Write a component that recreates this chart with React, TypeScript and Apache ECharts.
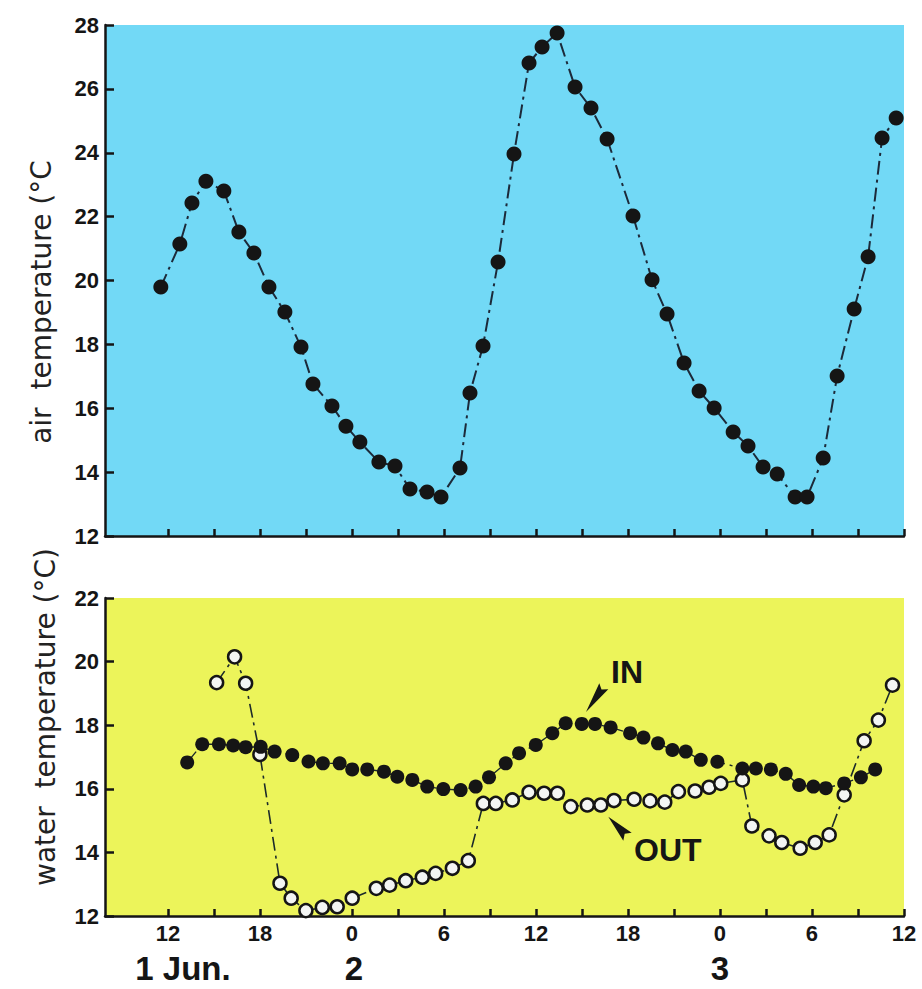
import React, { useEffect, useRef } from "react";
import * as echarts from "echarts";

// hours counted from 1 Jun. 00:00
const airHours = [11.54, 12.78, 13.57, 14.48, 15.65, 16.63, 17.61, 18.59, 19.63, 20.68, 21.46, 22.7, 23.61, 24.52, 25.76, 26.81, 27.79, 28.9, 29.81, 31.05, 31.7, 32.55, 33.53, 34.57, 35.55, 36.4, 37.38, 38.55, 39.59, 40.64, 42.33, 43.57, 44.55, 45.66, 46.64, 47.62, 48.86, 49.83, 50.81, 51.73, 52.9, 53.68, 54.73, 55.64, 56.75, 57.66, 58.57, 59.49];
const airTemp = [19.8, 21.14, 22.43, 23.11, 22.8, 21.52, 20.86, 19.8, 19.01, 17.92, 16.76, 16.07, 15.44, 14.94, 14.32, 14.19, 13.47, 13.38, 13.22, 14.13, 16.48, 17.95, 20.58, 23.96, 26.81, 27.31, 27.75, 26.06, 25.4, 24.43, 22.02, 20.02, 18.95, 17.42, 16.54, 16.01, 15.26, 14.82, 14.16, 13.94, 13.22, 13.22, 14.44, 17.01, 19.11, 20.74, 24.46, 25.09];

const inHours = [13.26, 14.24, 15.33, 16.26, 17.07, 18.05, 18.96, 20.11, 21.17, 22.11, 23.2, 24.02, 25.0, 26.09, 26.96, 27.94, 28.91, 29.96, 31.09, 32.07, 32.94, 34.03, 34.9, 35.99, 37.07, 37.94, 38.99, 39.85, 40.87, 42.14, 43.01, 43.96, 44.9, 45.77, 46.75, 47.83, 49.46, 50.34, 51.32, 52.29, 53.16, 54.09, 54.9, 56.1, 57.19, 58.12];
const inTemp = [16.83, 17.4, 17.4, 17.36, 17.31, 17.32, 17.17, 17.06, 16.86, 16.8, 16.8, 16.61, 16.61, 16.54, 16.38, 16.28, 16.07, 15.99, 15.96, 16.07, 16.36, 16.8, 17.12, 17.38, 17.75, 18.06, 18.04, 18.04, 17.93, 17.75, 17.61, 17.43, 17.22, 17.17, 16.91, 16.85, 16.64, 16.64, 16.61, 16.47, 16.12, 16.07, 16.02, 16.17, 16.36, 16.61];

const outHours = [15.18, 16.35, 17.07, 18.0, 19.31, 20.04, 21.0, 22.07, 23.04, 24.02, 25.59, 26.46, 27.51, 28.59, 29.46, 30.55, 31.59, 32.57, 33.38, 34.46, 35.55, 36.53, 37.4, 38.27, 39.35, 40.23, 41.09, 42.4, 43.44, 44.4, 45.29, 46.38, 47.29, 48.05, 49.46, 50.08, 51.2, 52.03, 53.23, 54.21, 55.12, 56.1, 57.4, 58.33, 59.25];
const outTemp = [19.34, 20.15, 19.32, 17.08, 13.03, 12.56, 12.17, 12.27, 12.29, 12.56, 12.87, 12.97, 13.11, 13.22, 13.34, 13.5, 13.74, 15.54, 15.54, 15.65, 15.89, 15.86, 15.86, 15.44, 15.49, 15.49, 15.63, 15.67, 15.62, 15.58, 15.91, 15.93, 16.05, 16.17, 16.28, 14.83, 14.52, 14.31, 14.13, 14.31, 14.55, 15.81, 17.51, 18.16, 19.26];

const tickHours = [12, 15, 18, 21, 24, 27, 30, 33, 36, 39, 42, 45, 48, 51, 54, 57, 60];
const labelHours = [12, 18, 24, 30, 36, 42, 48, 54, 60];
const dayLabels = ["1 Jun.", "2", "3"];
const dayLabelX = [183, 354, 720];

const INK = "#151515";
const FONT = "'Liberation Sans', Arial, sans-serif";

const zip = (xs: number[], ys: number[]) => xs.map((x, i) => [x, ys[i]]);

export default function App() {
  const ref = useRef<HTMLDivElement>(null);
  useEffect(() => {
    if (!ref.current) return;
    const chart = echarts.init(ref.current, null, { renderer: "svg" });
    const xAxisBase = (gridIndex: number, showLabels: boolean) => ({
      gridIndex,
      type: "value",
      min: 7.9,
      max: 60,
      axisLine: { onZero: false, lineStyle: { color: INK, width: 2.5 } },
      axisTick: { inside: true, length: 7, customValues: tickHours, lineStyle: { color: INK, width: 2.5 } },
      axisLabel: showLabels
        ? {
            customValues: labelHours,
            formatter: (v: number) => String(Math.round(v) % 24),
            color: INK,
            fontFamily: FONT,
            fontWeight: "bold",
            fontSize: 22,
            margin: 6,
          }
        : { show: false },
      splitLine: { show: false },
    });
    const yAxisBase = (gridIndex: number, max: number) => ({
      gridIndex,
      type: "value",
      min: 12,
      max,
      interval: 2,
      axisLine: { show: true, lineStyle: { color: INK, width: 2.5 } },
      axisTick: { show: true, inside: true, length: 9, lineStyle: { color: INK, width: 2.5 } },
      axisLabel: { color: INK, fontFamily: FONT, fontWeight: "bold", fontSize: 22, margin: 6 },
      splitLine: { show: false },
    });
    const dashDot = [14, 5, 3, 5];
    const option: any = {
      animation: false,
      backgroundColor: "#ffffff",
      grid: [
        { left: 105, top: 25, width: 799, height: 511, show: true, backgroundColor: "#72d9f6", borderWidth: 0 },
        { left: 105, top: 598, width: 799, height: 318, show: true, backgroundColor: "#ecf45a", borderWidth: 0 },
      ],
      xAxis: [xAxisBase(0, false), xAxisBase(1, true)],
      yAxis: [yAxisBase(0, 28), yAxisBase(1, 22)],
      series: [
        {
          name: "air",
          type: "line",
          xAxisIndex: 0,
          yAxisIndex: 0,
          data: zip(airHours, airTemp),
          symbol: "circle",
          symbolSize: 15,
          itemStyle: { color: INK },
          lineStyle: { color: "#1c2a3a", width: 2, type: dashDot },
        },
        {
          name: "OUT",
          type: "line",
          xAxisIndex: 1,
          yAxisIndex: 1,
          data: zip(outHours, outTemp),
          symbol: "circle",
          symbolSize: 13,
          itemStyle: { color: "#f3f5f3", borderColor: INK, borderWidth: 2.5 },
          lineStyle: { color: "#1c2a2a", width: 1.6, type: dashDot },
        },
        {
          name: "IN",
          type: "line",
          xAxisIndex: 1,
          yAxisIndex: 1,
          data: zip(inHours, inTemp),
          symbol: "circle",
          symbolSize: 14,
          itemStyle: { color: INK },
          lineStyle: { color: "#1c2a2a", width: 1.4, type: dashDot },
        },
      ],
      graphic: [
        {
          type: "text",
          x: 41,
          y: 302,
          rotation: Math.PI / 2,
          style: { text: "air  temperature (°C", fontFamily: "'DejaVu Sans', sans-serif", fontSize: 28, fill: "#222", align: "center", verticalAlign: "middle" },
        },
        {
          type: "text",
          x: 45,
          y: 717,
          rotation: Math.PI / 2,
          style: { text: "water  temperature (°C)", fontFamily: "'DejaVu Sans', sans-serif", fontSize: 28, fill: "#222", align: "center", verticalAlign: "middle" },
        },
        ...dayLabels.map((t, i) => ({
          type: "text",
          x: dayLabelX[i],
          y: 968,
          style: { text: t, fontFamily: FONT, fontWeight: "bold", fontSize: 33, fill: INK, align: "center", verticalAlign: "middle" },
        })),
        {
          type: "text",
          x: 611,
          y: 672,
          style: { text: "IN", fontFamily: FONT, fontWeight: "bold", fontSize: 32, fill: INK, align: "left", verticalAlign: "middle" },
        },
        {
          type: "text",
          x: 634,
          y: 850,
          style: { text: "OUT", fontFamily: FONT, fontWeight: "bold", fontSize: 32, fill: INK, align: "left", verticalAlign: "middle" },
        },
        {
          type: "polygon",
          shape: { points: [[586, 712], [599.3, 683.3], [601.5, 689.6], [608.3, 689.3]] },
          style: { fill: INK },
        },
        {
          type: "polygon",
          shape: { points: [[608.3, 816.7], [631.7, 832.7], [624.7, 833.8], [623.3, 840.7]] },
          style: { fill: INK },
        },
      ],
    };
    chart.setOption(option);
    return () => chart.dispose();
  }, []);
  return <div ref={ref} style={{ position: "fixed", left: 0, top: 0, width: 922, height: 989 }} />;
}
